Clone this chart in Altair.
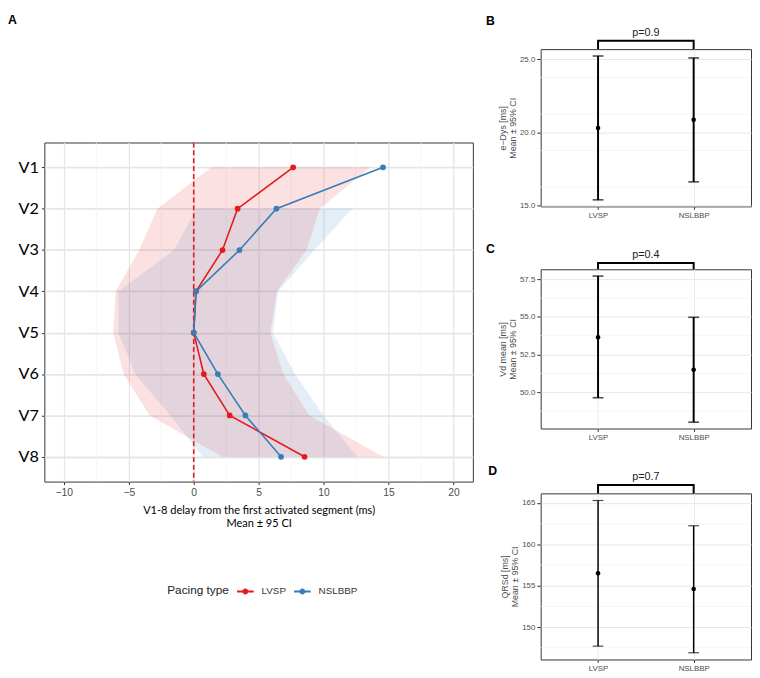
import json
import altair as alt
import pandas as pd

# ---------------- data ----------------
segments = ["V1", "V2", "V3", "V4", "V5", "V6", "V7", "V8"]
groups = ["LVSP", "NSLBBP"]

lvsp_mean = [7.66, 3.38, 2.22, 0.18, 0.0, 0.78, 2.77, 8.54]
lvsp_lo = [1.36, -2.8, -4.2, -6.0, -6.2, -5.4, -3.4, 2.2]
lvsp_hi = [13.6, 9.7, 8.7, 6.4, 5.9, 6.9, 8.9, 14.6]

ns_mean = [14.58, 6.37, 3.53, 0.18, 0.0, 1.86, 3.98, 6.73]
ns_lo = [None, 0.2, -1.5, -5.8, -5.8, -4.5, -1.8, 0.7]
ns_hi = [None, 12.2, 9.3, 6.5, 6.1, 7.8, 10.0, 12.6]

x_major = [-10, -5, 0, 5, 10, 15, 20]
x_domain = [-11.5, 21.5]
reference_delay = [0]

b_mean, b_lo, b_hi = [20.29, 20.85], [15.37, 16.6], [25.22, 25.09]
b_ticks, b_domain, b_p, b_bracket = [15.0, 17.5, 20.0, 22.5, 25.0], [14.92, 25.69], "p=0.9", 26.27

c_mean, c_lo, c_hi = [53.65, 51.49], [49.64, 48.02], [57.7, 54.97]
c_ticks, c_domain, c_p, c_bracket = [50.0, 52.5, 55.0, 57.5], [47.6, 58.15], "p=0.4", 58.57

d_mean, d_lo, d_hi = [156.5, 154.6], [147.7, 146.9], [165.3, 162.25]
d_ticks, d_domain, d_p, d_bracket = [150, 155, 160, 165], [146.09, 166.16], "p=0.7", 167.16

RED = "#E41A1C"
BLUE = "#377EB8"
FONT = "Liberation Sans"
LABEL_GREY = "#4D4D4D"
MAJOR_GRID = "#E6E6E6"
MINOR_GRID = "#F3F3F3"


def minor_of(major, domain):
    step = major[1] - major[0]
    vals = [major[0] - step / 2] + [m + step / 2 for m in major]
    return [v for v in vals if domain[0] <= v <= domain[1]]


color_scale = alt.Scale(domain=groups, range=[RED, BLUE])

# ---------------- panel A ----------------
rows = []
for g, m, lo, hi in [("LVSP", lvsp_mean, lvsp_lo, lvsp_hi), ("NSLBBP", ns_mean, ns_lo, ns_hi)]:
    for i, s in enumerate(segments):
        rows.append(dict(group=g, seg=s, pos=i + 1, mean=m[i], lo=lo[i], hi=hi[i]))
dfa = pd.DataFrame(rows)

A_WIDTH = 436

xa_scale = alt.Scale(domain=x_domain, nice=False, zero=False)
xa_axis = alt.Axis(
    values=x_major,
    labelFontSize=10.5, labelColor=LABEL_GREY, labelPadding=3,
    tickColor="#333333", tickSize=3,
    gridColor=MAJOR_GRID, gridWidth=1.3,
    domain=False,
    title=["V1-8 delay from the first activated segment (ms)", "Mean ± 95 CI"],
    titleFont="Lato", titleFontSize=11.2, titleFontWeight="normal", titleColor="black",
    titlePadding=7, titleLineHeight=13,
)
ya_scale = alt.Scale(domain=[0.4, len(segments) + 0.6], reverse=True, nice=False, zero=False)
ya = alt.Y(
    "pos:Q", scale=ya_scale,
    axis=alt.Axis(
        values=list(range(1, len(segments) + 1)),
        labelExpr=f"{json.dumps(segments)}[datum.value - 1]",
        labelFont="Lato", labelFontSize=16.5, labelColor="black", labelPadding=3,
        tickColor="#333333", tickSize=3,
        gridColor=MAJOR_GRID, gridWidth=1.8, domain=False, title=None,
    ),
)

minor_a = alt.Chart(pd.DataFrame({"v": minor_of(x_major, x_domain)})).mark_rule(
    color=MINOR_GRID, strokeWidth=0.8
).encode(x=alt.X("v:Q", scale=xa_scale, axis=xa_axis))


def band(g, color):
    sub = dfa[dfa["group"] == g].dropna()
    return alt.Chart(sub).mark_area(
        orient="horizontal", fill=color, fillOpacity=0.13, strokeWidth=0
    ).encode(
        x=alt.X("lo:Q", scale=xa_scale),
        x2="hi:Q",
        y=alt.Y("pos:Q", scale=ya_scale),
    )


def trace(g, color):
    sub = dfa[dfa["group"] == g]
    return alt.Chart(sub).mark_line(color=color, strokeWidth=1.6).encode(
        x=alt.X("mean:Q", scale=xa_scale),
        y=alt.Y("pos:Q", scale=ya_scale),
        order=alt.Order("pos:Q"),
    )


zero_line = alt.Chart(pd.DataFrame({"ref": reference_delay})).mark_rule(
    color=RED, strokeDash=[5, 3], strokeWidth=1.6
).encode(x=alt.X("ref:Q", scale=xa_scale))

legend_symbol = (
    "M-1,-0.12L1,-0.12L1,0.12L-1,0.12Z"
    "M-0.36,0A0.36,0.36,0,1,1,0.36,0A0.36,0.36,0,1,1,-0.36,0Z"
)
points = alt.Chart(dfa).mark_circle(size=34, opacity=1).encode(
    x=alt.X("mean:Q", scale=xa_scale),
    y=ya,
    color=alt.Color(
        "group:N", scale=color_scale,
        legend=alt.Legend(
            title="Pacing type", orient="none", legendX=125, legendY=448,
            direction="horizontal", titleOrient="left", titlePadding=8,
            titleFont=FONT, titleFontSize=12, titleFontWeight="normal", titleColor="#222222",
            titleBaseline="middle",
            labelFont=FONT, labelFontSize=10, labelColor="#333333", labelOffset=8,
            symbolType=legend_symbol, symbolSize=289, symbolStrokeWidth=0,
            columnPadding=8,
        ),
    ),
)

panel_a = alt.layer(
    minor_a, band("LVSP", RED), band("NSLBBP", BLUE), zero_line,
    trace("LVSP", RED), trace("NSLBBP", BLUE), points,
).properties(width=A_WIDTH, height=345)

# empty space above panel A carrying the "A" label
spacer = alt.Chart(pd.DataFrame({"v": [0]})).mark_point(opacity=0).properties(
    width=A_WIDTH, height=88,
    view=alt.ViewBackground(strokeOpacity=0),
    title=alt.TitleParams("A", anchor="start", fontSize=12.5, fontWeight="bold",
                          font=FONT, color="black", dx=-37, offset=23),
)

left = alt.vconcat(spacer, panel_a, spacing=5).resolve_scale(color="independent")


# ---------------- panels B, C, D ----------------
def ci_panel(letter, ytitle, means, los, his, ticks, domain, ptext, bracket_y,
             height, stroke_w, title_offset):
    df = pd.DataFrame({"group": groups, "mean": means, "lo": los, "hi": his})
    x = alt.X(
        "group:N", sort=groups, scale=alt.Scale(type="point", padding=0.6),
        axis=alt.Axis(title=None, labelFontSize=8, labelColor=LABEL_GREY, labelAngle=0,
                      labelPadding=2, tickColor="#333333", tickSize=3,
                      grid=True, gridColor="#EBEBEB", domain=False),
    )
    yscale = alt.Scale(domain=domain, nice=False, zero=False)
    fmt = ".1f" if any(t != int(t) for t in ticks) else ".0f"
    yaxis = alt.Axis(
        values=ticks, format=fmt,
        labelFontSize=8, labelColor=LABEL_GREY, labelPadding=2,
        tickColor="#333333", tickSize=4,
        gridColor=MAJOR_GRID, domain=False,
        title=ytitle, titleFontSize=9, titleFontWeight="normal", titleColor=LABEL_GREY,
        titlePadding=2, titleLineHeight=10,
    )
    minor = alt.Chart(pd.DataFrame({"v": minor_of(ticks, domain)})).mark_rule(
        color=MINOR_GRID, strokeWidth=0.8
    ).encode(y=alt.Y("v:Q", scale=yscale, axis=yaxis))
    bar = alt.Chart(df).mark_rule(color="black", strokeWidth=stroke_w).encode(
        x=x, y=alt.Y("lo:Q", scale=yscale), y2="hi:Q")
    cap_lo = alt.Chart(df).mark_tick(color="black", thickness=stroke_w * 0.8, size=11).encode(
        x=x, y=alt.Y("lo:Q", scale=yscale))
    cap_hi = alt.Chart(df).mark_tick(color="black", thickness=stroke_w * 0.8, size=11).encode(
        x=x, y=alt.Y("hi:Q", scale=yscale))
    dot = alt.Chart(df).mark_point(filled=True, color="black", size=22, opacity=1).encode(
        x=x, y=alt.Y("mean:Q", scale=yscale))
    br = pd.DataFrame({
        "group": [groups[0], groups[0], groups[1], groups[1]],
        "yv": [domain[1], bracket_y, bracket_y, domain[1]],
        "o": [0, 1, 2, 3],
    })
    bracket = alt.Chart(br).mark_line(color="black", strokeWidth=2, clip=False).encode(
        x=x, y=alt.Y("yv:Q", scale=yscale), order="o:Q")
    ptxt = alt.Chart(pd.DataFrame({"p": [ptext], "yv": [bracket_y]})).mark_text(
        fontSize=11, color="#222222", baseline="alphabetic", dy=-5, clip=False, font=FONT
    ).encode(y=alt.Y("yv:Q", scale=yscale), text="p:N")
    return alt.layer(minor, bar, cap_lo, cap_hi, dot, bracket, ptxt).properties(
        width=214, height=height,
        title=alt.TitleParams(letter, anchor="start", fontSize=12.5, fontWeight="bold",
                              font=FONT, color="black", dx=-13, offset=title_offset),
    )


panel_b = ci_panel("B", ["e\u2212Dys [ms]", "Mean ± 95% CI"], b_mean, b_lo, b_hi, b_ticks,
                   b_domain, b_p, b_bracket, 160, 2, -1)
panel_c = ci_panel("C", ["Vd mean [ms]", "Mean ± 95% CI"], c_mean, c_lo, c_hi, c_ticks,
                   c_domain, c_p, c_bracket, 162, 2, -6)
panel_d = ci_panel("D", ["QRSd [ms]", "Mean ± 95% CI"], d_mean, d_lo, d_hi, d_ticks,
                   d_domain, d_p, d_bracket, 169, 1.5, -6)

right = alt.vconcat(panel_b, panel_c, panel_d, spacing=22)

chart = alt.hconcat(left, right, spacing=11).properties(
    padding=0
).resolve_scale(color="independent").configure(
    font=FONT
).configure_view(stroke="#333333", strokeWidth=1)

chart.save("out.html", embed_options={"renderer": "svg", "actions": False})
